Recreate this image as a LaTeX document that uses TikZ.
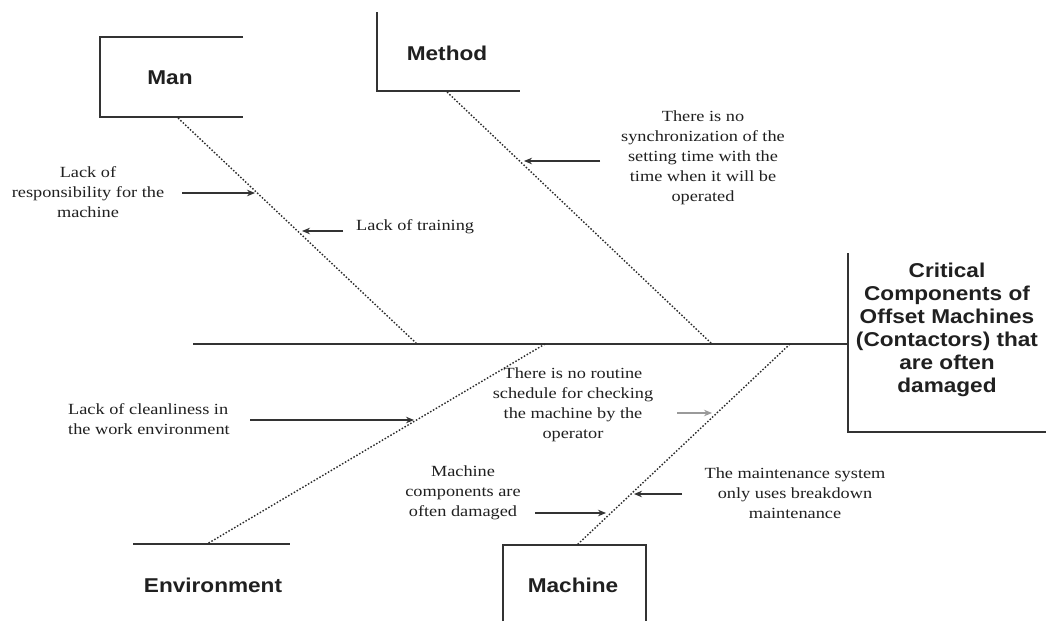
\documentclass[tikz,border=0pt]{standalone}
\usepackage{fontspec}
\usetikzlibrary{arrows.meta}
\newfontfamily\catfont[FakeStretch=1.13]{Liberation Sans}
\newfontfamily\labfont[FakeStretch=1.18]{Liberation Serif}
\definecolor{linec}{HTML}{333333}
\definecolor{bonec}{HTML}{2A2A2A}
\definecolor{textc}{HTML}{202020}
\definecolor{lightc}{HTML}{9A9A9A}
\begin{document}
\begin{tikzpicture}[x=1pt,y=-1pt,
  frame/.style={draw=linec, line width=1.4pt},
  bone/.style={draw=bonec, line width=1.4pt, dash pattern=on 1.5pt off 1.8pt},
  arr/.style={draw=linec, line width=1.3pt, -{Stealth[length=8pt,width=6.5pt]}},
  cat/.style={font=\catfont\bfseries\fontsize{20}{23}\selectfont, text=textc, align=center, inner sep=0pt},
  lab/.style={font=\labfont\fontsize{15.5}{20}\selectfont, text=textc, align=center, inner sep=0pt}]
\useasboundingbox (0,0) rectangle (1046,621);
\fill[white] (0,0) rectangle (1046,621);

% Man
\coordinate (manTR) at (243,37); \coordinate (manTL) at (100,37);
\coordinate (manBL) at (100,117); \coordinate (manBR) at (243,117);
\draw[frame] (manTR) -- (manTL) -- (manBL) -- (manBR);
\node[cat] (man) at (170,78) {Man};
\coordinate (manB) at (178,118); \coordinate (manJ) at (417,344);
\draw[bone] (manB) -- (manJ);

% Method
\coordinate (metT) at (377,12); \coordinate (metBL) at (377,91); \coordinate (metBR) at (520,91);
\draw[frame] (metT) -- (metBL) -- (metBR);
\node[cat] (method) at (447,53) {Method};
\coordinate (metB) at (447,92); \coordinate (metJ) at (712,344);
\draw[bone] (metB) -- (metJ);

% Spine and effect box
\coordinate (spS) at (193,344); \coordinate (spE) at (848,344);
\draw[frame] (spS) -- (spE);
\coordinate (effT) at (848,253); \coordinate (effBL) at (848,432); \coordinate (effBR) at (1046,432);
\draw[frame] (effT) -- (effBL) -- (effBR);
\node[cat] (effect) at (947,330) {Critical\\Components of\\Offset Machines\\(Contactors) that\\are often\\damaged};

% Environment
\coordinate (envL) at (133,544); \coordinate (envR) at (290,544);
\draw[frame] (envL) -- (envR);
\node[cat] (env) at (213,585) {Environment};
\coordinate (envJ) at (545,344); \coordinate (envB) at (207,544);
\draw[bone] (envJ) -- (envB);

% Machine
\coordinate (macBL) at (503,621); \coordinate (macTL) at (503,545);
\coordinate (macTR) at (646,545); \coordinate (macBR) at (646,621);
\draw[frame] (macBL) -- (macTL) -- (macTR) -- (macBR);
\node[cat] (mac) at (573,585) {Machine};
\coordinate (macJ) at (790,344); \coordinate (macB) at (577,545);
\draw[bone] (macJ) -- (macB);

% Causes
\node[lab] (c1) at (88,192) {Lack of\\responsibility for the\\machine};
\coordinate (a1s) at (182,193); \coordinate (a1e) at (255,193);
\draw[arr] (a1s) -- (a1e);

\node[lab, anchor=west] (c2) at (356,227) {Lack of training};
\coordinate (a2s) at (343,231); \coordinate (a2e) at (302,231);
\draw[arr] (a2s) -- (a2e);

\node[lab] (c3) at (703,158) {There is no\\synchronization of the\\setting time with the\\time when it will be\\operated};
\coordinate (a3s) at (600,161); \coordinate (a3e) at (524,161);
\draw[arr] (a3s) -- (a3e);

\node[lab, anchor=west, align=left] (c4) at (68,419) {Lack of cleanliness in\\the work environment};
\coordinate (a4s) at (250,420); \coordinate (a4e) at (414,420);
\draw[arr] (a4s) -- (a4e);

\node[lab] (c5) at (573,405) {There is no routine\\schedule for checking\\the machine by the\\operator};
\coordinate (a5s) at (677,413); \coordinate (a5e) at (712,413);
\draw[arr, draw=lightc] (a5s) -- (a5e);

\node[lab] (c6) at (463,493) {Machine\\components are\\often damaged};
\coordinate (a6s) at (535,513); \coordinate (a6e) at (606,513);
\draw[arr] (a6s) -- (a6e);

\node[lab] (c7) at (795,493) {The maintenance system\\only uses breakdown\\maintenance};
\coordinate (a7s) at (682,494); \coordinate (a7e) at (634,494);
\draw[arr] (a7s) -- (a7e);
\end{tikzpicture}
\end{document}
